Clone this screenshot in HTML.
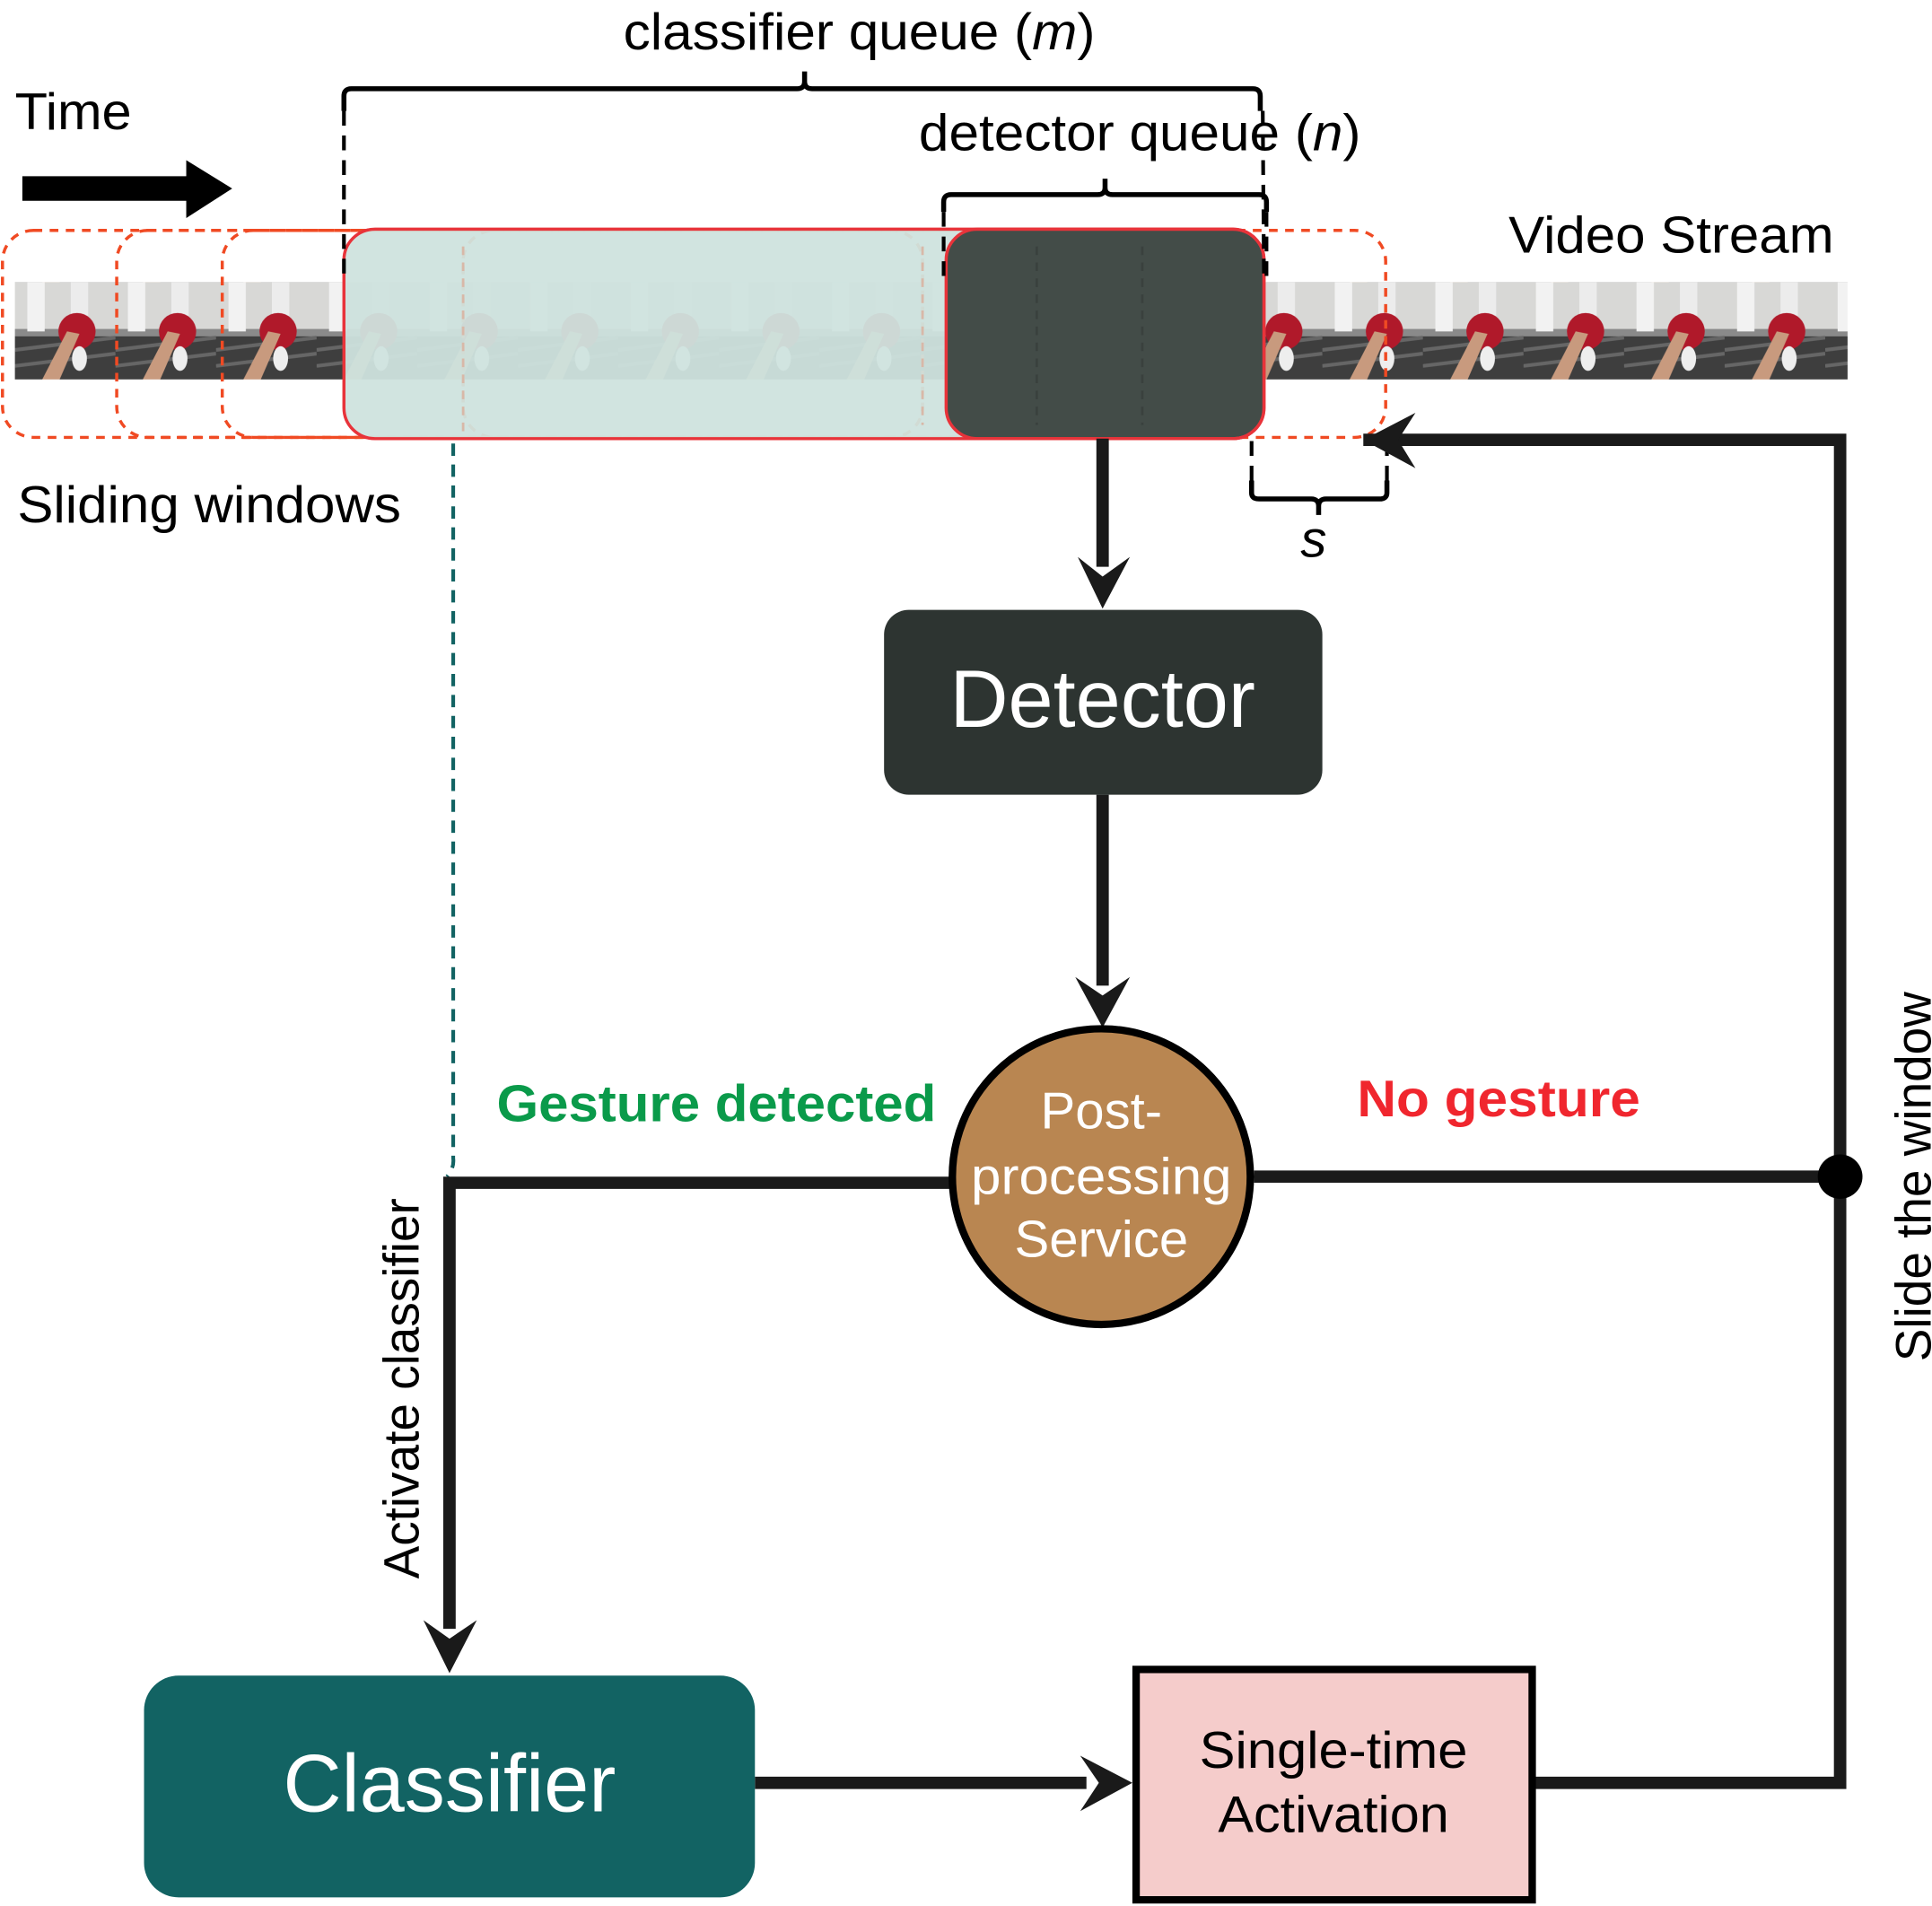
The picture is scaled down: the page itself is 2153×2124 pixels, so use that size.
<!DOCTYPE html>
<html><head><meta charset="utf-8"><style>
html,body{margin:0;padding:0;background:#fff}
svg{display:block}
text{font-family:"Liberation Sans",sans-serif}
</style></head><body>
<svg width="2153" height="2124" viewBox="0 0 1556 1547" preserveAspectRatio="none" xmlns="http://www.w3.org/2000/svg">
<defs>
<pattern id="fr" x="12" y="229" width="81" height="79" patternUnits="userSpaceOnUse">
<rect width="81" height="79" fill="#8a8a8a"/>
<rect width="81" height="38" fill="#d8d8d6"/>
<rect x="10" y="0" width="14" height="40" fill="#f2f2f2"/>
<rect x="45" y="0" width="14" height="36" fill="#ececec"/>
<rect y="44" width="81" height="35" fill="#3e3e3e"/>
<path d="M0 55 L81 45 M0 68 L81 58" stroke="#666" stroke-width="3"/>
<ellipse cx="50" cy="40" rx="15" ry="15" fill="#b0192a"/>
<ellipse cx="52" cy="62" rx="6" ry="10" fill="#eee"/>
<path d="M22 79 L42 40 L52 42 L36 79 Z" fill="#c89a7e"/>
</pattern>
</defs>

<rect x="12" y="229" width="1476" height="79" fill="url(#fr)"/>

<g fill="none" stroke="#f04a23" stroke-width="2.5" stroke-dasharray="7 6">
<rect x="2" y="187" width="741" height="168" rx="25"/>
<rect x="94" y="187" width="741" height="168" rx="25"/>
<rect x="179" y="187" width="741" height="168" rx="25"/>
<rect x="373" y="187" width="743" height="168" rx="25"/>
</g>
<rect x="277" y="186" width="741" height="170" rx="25" fill="#cfe3de" fill-opacity="0.95"/>
<rect x="762" y="186" width="256" height="170" rx="25" fill="#434c48"/>
<g fill="none" stroke="#d8b8a8" stroke-width="2" stroke-dasharray="7 6"><line x1="373" y1="200" x2="373" y2="350"/><line x1="743" y1="200" x2="743" y2="345"/></g>
<g fill="none" stroke="#3a413e" stroke-width="2" stroke-dasharray="7 6"><line x1="835" y1="200" x2="835" y2="345"/><line x1="920" y1="200" x2="920" y2="345"/></g>
<rect x="277" y="186" width="741" height="170" rx="25" fill="none" stroke="#e8333a" stroke-width="2.5"/>
<rect x="762" y="186" width="256" height="170" rx="25" fill="none" stroke="#e8333a" stroke-width="2.5"/>

<text x="502" y="40" font-size="42" textLength="380" lengthAdjust="spacingAndGlyphs">classifier queue (<tspan font-style="italic">m</tspan>)</text>
<text x="12" y="105" font-size="42" textLength="94" lengthAdjust="spacingAndGlyphs">Time</text>
<text x="740" y="122" font-size="42" textLength="356" lengthAdjust="spacingAndGlyphs">detector queue (<tspan font-style="italic">n</tspan>)</text>
<text x="1215" y="205" font-size="42" textLength="262" lengthAdjust="spacingAndGlyphs">Video Stream</text>
<text x="14" y="424" font-size="42" textLength="309" lengthAdjust="spacingAndGlyphs">Sliding windows</text>
<text x="1058" y="452" font-size="42" font-style="italic" text-anchor="middle">s</text>

<path d="M18 143 H150 V130 L187 153 L150 177 V163 H18 Z" fill="#000"/>

<g fill="none" stroke="#000" stroke-width="4">
<path d="M277 90 V78 Q277 72 283 72 H642 Q648 72 648 66 V58 M648 66 Q648 72 654 72 H1009 Q1015 72 1015 78 V90"/>
<path d="M760 172 V164 Q760 158 766 158 H884 Q890 158 890 152 V145 M890 152 Q890 158 896 158 H1014 Q1020 158 1020 164 V172"/>
<path d="M1008 390 V400 Q1008 405 1014 405 H1056 Q1062 405 1062 411 V418 M1062 411 Q1062 405 1068 405 H1111 Q1117 405 1117 400 V390"/>
</g>
<g fill="none" stroke="#000" stroke-width="3" stroke-dasharray="12 8">
<line x1="277" y1="90" x2="277" y2="230"/>
<line x1="1017" y1="90" x2="1018" y2="230"/>
<line x1="760" y1="172" x2="760" y2="230"/>
<line x1="1020" y1="172" x2="1020" y2="230"/>
<line x1="1008" y1="358" x2="1008" y2="390"/>
<line x1="1117" y1="358" x2="1117" y2="390"/>
</g>

<path d="M365 360 V940 Q366 948 360 955" fill="none" stroke="#126363" stroke-width="3" stroke-dasharray="10 7"/>

<g stroke="#1a1a1a" stroke-width="10" fill="none">
<line x1="888" y1="356" x2="888" y2="460"/>
<line x1="888" y1="645" x2="888" y2="800"/>
<polyline points="1010,955 1482,955"/>
<polyline points="1098,357 1482,357 1482,1447 1234,1447"/>
<polyline points="767,960 362,960 362,1322"/>
<line x1="608" y1="1447" x2="875" y2="1447"/>
</g>
<g fill="#1a1a1a">
<path d="M868 452 L888 468 L910 452 L888 494 Z"/>
<path d="M866 793 L888 808 L910 793 L888 834 Z"/>
<path d="M1098 357 L1140 335 L1126 357 L1140 380 Z"/>
<path d="M341 1315 L362 1330 L384 1315 L362 1358 Z"/>
<path d="M912 1447 L870 1425 L885 1447 L870 1470 Z"/>
<circle cx="1482" cy="955" r="18" fill="#000"/>
</g>

<rect x="712" y="495" width="353" height="150" rx="20" fill="#2d3431"/>
<text x="888" y="590" font-size="66" fill="#fff" text-anchor="middle" textLength="246" lengthAdjust="spacingAndGlyphs">Detector</text>

<circle cx="887" cy="955" r="120" fill="#b98651" stroke="#000" stroke-width="6"/>
<g font-size="42" fill="#fff" text-anchor="middle">
<text x="887" y="916">Post-</text>
<text x="887" y="969" textLength="210" lengthAdjust="spacingAndGlyphs">processing</text>
<text x="887" y="1020">Service</text>
</g>

<text x="400" y="910" font-size="42" font-weight="bold" fill="#0a9a4a" textLength="354" lengthAdjust="spacingAndGlyphs">Gesture detected</text>
<text x="1093" y="906" font-size="42" font-weight="bold" fill="#f0262e" textLength="228" lengthAdjust="spacingAndGlyphs">No gesture</text>

<text transform="translate(337,1127) rotate(-90)" font-size="40" text-anchor="middle">Activate classifier</text>
<text transform="translate(1555,955) rotate(-90)" font-size="40" text-anchor="middle">Slide the window</text>

<rect x="116" y="1360" width="492" height="180" rx="28" fill="#126363"/>
<text x="362" y="1470" font-size="66" fill="#fff" text-anchor="middle" textLength="268" lengthAdjust="spacingAndGlyphs">Classifier</text>

<rect x="915" y="1355" width="319" height="187" fill="#f5cccb" stroke="#000" stroke-width="6"/>
<text x="1074" y="1435" font-size="42" text-anchor="middle" textLength="216" lengthAdjust="spacingAndGlyphs">Single-time</text>
<text x="1074" y="1487" font-size="42" text-anchor="middle" textLength="186" lengthAdjust="spacingAndGlyphs">Activation</text>
</svg>
</body></html>
